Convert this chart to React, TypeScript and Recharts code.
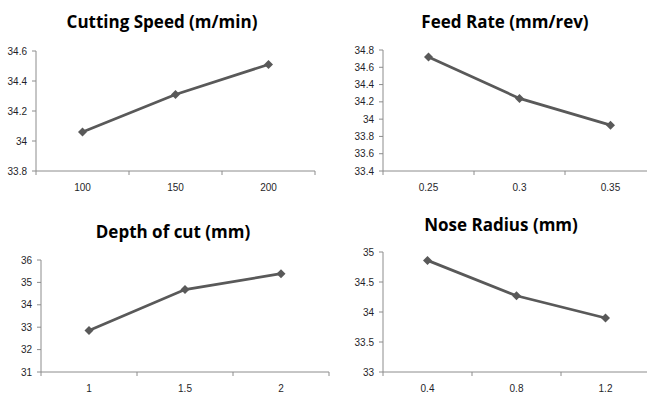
import { LineChart, Line, XAxis, YAxis } from "recharts";

const speedLevels = ["100", "150", "200"];
const speedMeans = [34.06, 34.31, 34.51];
const speedTicks = [33.8, 34, 34.2, 34.4, 34.6];

const feedLevels = ["0.25", "0.3", "0.35"];
const feedMeans = [34.72, 34.24, 33.93];
const feedTicks = [33.4, 33.6, 33.8, 34, 34.2, 34.4, 34.6, 34.8];

const depthLevels = ["1", "1.5", "2"];
const depthMeans = [32.85, 34.68, 35.39];
const depthTicks = [31, 32, 33, 34, 35, 36];

const noseLevels = ["0.4", "0.8", "1.2"];
const noseMeans = [34.86, 34.27, 33.9];
const noseTicks = [33, 33.5, 34, 34.5, 35];

const LINE = "#595959";
const AXIS = "#8c8c8c";
const TEXT = "#1f1f2a";
const TICK_FONT = "'Liberation Sans', Arial, sans-serif";
const TITLE_FONT = "'Open Sans', 'Liberation Sans', sans-serif";
const TICK_SIZE = 4;
const TICK_MARGIN = 9;
const Y_W = 40;

// excel-style category axis: marks between categories, labels in the middle
function CatTick(props: any) {
  const { x, y, payload, labels } = props;
  const v = payload.value;
  if (Number.isInteger(v)) {
    return (
      <text x={x} y={y} dy="0.71em" textAnchor="middle" fontSize={10} fill={TEXT} fontFamily={TICK_FONT}>
        {labels[v - 1]}
      </text>
    );
  }
  return <line x1={x} x2={x} y1={y - TICK_MARGIN - TICK_SIZE} y2={y - TICK_MARGIN} stroke={AXIS} />;
}

function Diamond(props: any) {
  const { cx, cy } = props;
  if (cx == null || cy == null) return null;
  const s = 4.5;
  return (
    <polygon
      points={`${cx},${cy - s} ${cx + s},${cy} ${cx},${cy + s} ${cx - s},${cy}`}
      fill={LINE}
    />
  );
}

type PanelProps = {
  title: string;
  levels: string[];
  means: number[];
  yTicks: number[];
  plot: { l: number; t: number; r: number; b: number };
  titleAt: [number, number];
};

function Panel({ title, levels, means, yTicks, plot, titleAt }: PanelProps) {
  const data = levels.map((lab, i) => ({ x: i + 1, label: lab, value: means[i] }));
  const xTicks = levels.flatMap((_, i) => [i + 0.5, i + 1]).concat(levels.length + 0.5);
  const left = plot.l - Y_W;
  const top = plot.t - 10;
  const width = plot.r + 6 - left;
  const height = plot.b + 30 - top;

  return (
    <>
      <div
        style={{
          position: "absolute",
          left: titleAt[0] - 150,
          top: titleAt[1] - 12,
          width: 300,
          lineHeight: "24px",
          textAlign: "center",
          fontFamily: TITLE_FONT,
          fontWeight: 700,
          fontSize: 17,
          color: "#000",
        }}
      >
        {title}
      </div>
      <div style={{ position: "absolute", left, top }}>
        <LineChart width={width} height={height} data={data} margin={{ top: 10, right: 6, bottom: 0, left: 0 }}>
          <XAxis
            type="number"
            dataKey="x"
            domain={[0.5, levels.length + 0.5]}
            ticks={xTicks}
            interval={0}
            height={30}
            tickSize={TICK_SIZE}
            tickMargin={TICK_MARGIN}
            tickLine={false}
            axisLine={{ stroke: AXIS }}
            tick={(p: any) => <CatTick {...p} labels={levels} />}
          />
          <YAxis
            type="number"
            domain={[yTicks[0], yTicks[yTicks.length - 1]]}
            ticks={yTicks}
            interval={0}
            width={Y_W}
            tickSize={TICK_SIZE}
            tickMargin={5}
            axisLine={{ stroke: AXIS }}
            tickLine={{ stroke: AXIS }}
            tick={{ fontSize: 10, fill: TEXT, fontFamily: TICK_FONT }}
          />
          <Line
            type="linear"
            dataKey="value"
            stroke={LINE}
            strokeWidth={2.75}
            dot={Diamond}
            activeDot={false}
            isAnimationActive={false}
          />
        </LineChart>
      </div>
    </>
  );
}

export default function App() {
  return (
    <div
      style={{
        position: "absolute",
        left: 0,
        top: 0,
        width: 647,
        height: 394,
        overflow: "hidden",
        background: "#fff",
      }}
    >
      <Panel
        title="Cutting Speed (m/min)"
        levels={speedLevels}
        means={speedMeans}
        yTicks={speedTicks}
        plot={{ l: 36, t: 51, r: 315, b: 171 }}
        titleAt={[162, 22]}
      />
      <Panel
        title="Feed Rate (mm/rev)"
        levels={feedLevels}
        means={feedMeans}
        yTicks={feedTicks}
        plot={{ l: 383, t: 50, r: 656, b: 171 }}
        titleAt={[505, 22]}
      />
      <Panel
        title="Depth of cut (mm)"
        levels={depthLevels}
        means={depthMeans}
        yTicks={depthTicks}
        plot={{ l: 41, t: 260, r: 329, b: 372 }}
        titleAt={[173, 232]}
      />
      <Panel
        title="Nose Radius (mm)"
        levels={noseLevels}
        means={noseMeans}
        yTicks={noseTicks}
        plot={{ l: 383, t: 252, r: 650, b: 372 }}
        titleAt={[501, 225]}
      />
    </div>
  );
}
